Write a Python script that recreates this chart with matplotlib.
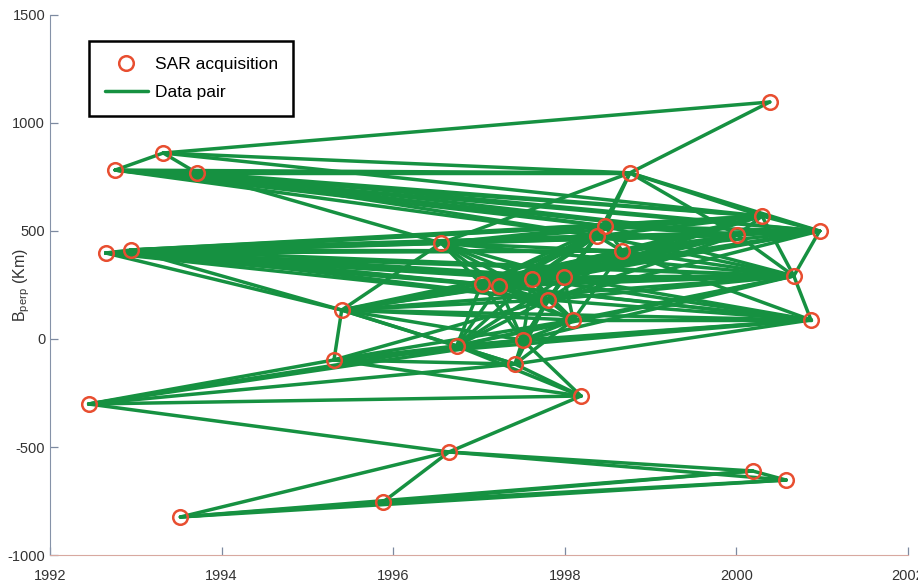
import matplotlib
matplotlib.use("Agg")
import matplotlib.pyplot as plt

plt.rcParams["font.family"] = ["Liberation Sans", "DejaVu Sans"]
plt.rcParams["mathtext.default"] = "regular"
plt.rcParams["axes.unicode_minus"] = False

# acquisition dates (decimal year) and perpendicular baselines (Km)
dates = [1992.45, 1992.65, 1992.76, 1992.94, 1993.32, 1993.52, 1993.71, 1995.31,
         1995.40, 1995.88, 1996.56, 1996.65, 1996.74, 1997.03, 1997.23, 1997.42,
         1997.51, 1997.62, 1997.80, 1997.99, 1998.10, 1998.19, 1998.38, 1998.47,
         1998.67, 1998.76, 2000.01, 2000.19, 2000.30, 2000.39, 2000.58, 2000.67,
         2000.87, 2000.97]
bperp = [-301, 398, 782, 412, 861, -824, 769, -97, 134, -755, 444, -523, -32,
         255, 245, -116, -5, 278, 181, 287, 88, -264, 477, 523, 407, 769, 481,
         -611, 569, 1097, -653, 292, 88, 500]

# data pairs: for each acquisition, the later acquisitions it is paired with
links = [
    [7, 11, 12, 15, 16, 21],
    [3, 8, 10, 13, 14, 17, 18, 19, 22, 23, 24, 26, 28, 31, 33],
    [4, 6, 22, 23, 25, 26, 28, 33],
    [8, 10, 13, 14, 17, 18, 19, 22, 23, 24, 26, 28, 31, 33],
    [6, 25, 28, 29],
    [9, 11, 27, 30],
    [10, 22, 23, 25, 26, 28, 33],
    [8, 12, 15, 16, 18, 20, 21, 32],
    [10, 12, 13, 14, 15, 16, 17, 18, 19, 20, 24, 31, 32],
    [11, 27, 30],
    [13, 14, 17, 18, 19, 22, 23, 24, 25, 26, 28, 31, 33],
    [21, 27, 30],
    [13, 14, 15, 16, 17, 18, 19, 20, 21, 31, 32],
    [14, 16, 17, 18, 19, 20, 22, 23, 24, 26, 28, 31, 32, 33],
    [16, 17, 18, 19, 20, 22, 23, 24, 26, 28, 31, 32, 33],
    [16, 18, 20, 21, 32],
    [17, 18, 19, 20, 21, 31, 32],
    [18, 19, 20, 22, 23, 24, 26, 28, 31, 32, 33],
    [19, 20, 22, 23, 24, 26, 31, 32, 33],
    [20, 22, 23, 24, 26, 28, 31, 32, 33],
    [24, 31, 32],
    [],
    [23, 24, 25, 26, 28, 31, 33],
    [24, 25, 26, 28, 31, 33],
    [26, 28, 31, 32, 33],
    [26, 28, 29, 33],
    [28, 31, 33],
    [30],
    [31, 33],
    [],
    [],
    [32, 33],
    [],
    [],
]

green = "#169141"
red = "#e84e30"

fig = plt.figure(figsize=(9.18, 5.87), dpi=100)
ax = fig.add_axes([0.0545, 0.0545, 0.9345, 0.92])

first = True
for i, others in enumerate(links):
    for j in others:
        ax.plot([dates[i], dates[j]], [bperp[i], bperp[j]], color=green, lw=2.5,
                solid_capstyle="round", label="Data pair" if first else None, zorder=2)
        first = False
ax.plot(dates, bperp, "o", mfc="none", mec=red, ms=10.5, mew=1.8,
        label="SAR acquisition", zorder=3)

ax.set_xlim(1992, 2002)
ax.set_ylim(-1000, 1500)
ax.set_xticks(range(1992, 2003, 2))
ax.set_yticks(range(-1000, 1501, 500))
for s in ("top", "right"):
    ax.spines[s].set_visible(False)
ax.spines["left"].set_color("#8592a8")
ax.spines["bottom"].set_color("#d8a8a0")
ax.tick_params(direction="in", length=6, width=0.9, color="#7d8aa0",
               labelsize=10.5, labelcolor="#333333")
ax.tick_params(axis="x", pad=10)
ax.set_ylabel("B$_{perp}$ (Km)", fontsize=11.5, color="#333333")
ax.yaxis.set_label_coords(-0.021, 0.5)

h, l = ax.get_legend_handles_labels()
leg = ax.legend(h[::-1], l[::-1], loc="upper left", bbox_to_anchor=(0.046, 0.951),
                borderaxespad=0, fontsize=12.5, frameon=True, fancybox=False,
                edgecolor="black", framealpha=1, borderpad=0.9, handlelength=2.45,
                handletextpad=0.4, labelspacing=0.75, numpoints=1)
leg.get_frame().set_linewidth(1.8)

fig.savefig("out.png", dpi=100)
